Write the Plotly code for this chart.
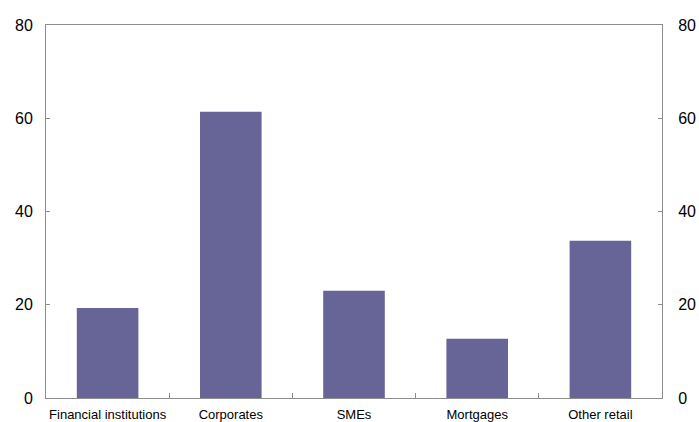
import plotly.graph_objects as go

categories = ["Financial institutions", "Corporates", "SMEs", "Mortgages", "Other retail"]
values = [19.3, 61.4, 23.0, 12.7, 33.7]
y_ticks = [0, 20, 40, 60, 80]

fig = go.Figure()
fig.add_trace(go.Bar(x=categories, y=values, marker=dict(color="#676597", line=dict(width=0)),
                     width=0.5, showlegend=False, hoverinfo="x+y"))
fig.add_trace(go.Scatter(x=categories, y=values, yaxis="y2", mode="markers",
                         marker=dict(opacity=0), showlegend=False, hoverinfo="skip"))

axcol = "#8c8c8c"
fig.update_layout(
    width=699, height=422,
    margin=dict(l=46, r=37, t=25, b=24),
    paper_bgcolor="white", plot_bgcolor="white",
    font=dict(family="Liberation Sans, Arial, sans-serif", color="black"),
    xaxis=dict(type="category", showline=True, linecolor=axcol, linewidth=1,
               ticks="inside", tickson="boundaries", ticklen=5, tickcolor=axcol,
               tickfont=dict(size=13), tickangle=0, showgrid=False, mirror=True,
               zeroline=False, automargin=False, ticklabelstandoff=4),
    yaxis=dict(range=[0, 80], tickvals=y_ticks, showline=True, linecolor=axcol, linewidth=1,
               ticks="inside", ticklen=4, tickcolor=axcol, tickfont=dict(size=16),
               showgrid=False, zeroline=False, ticklabelstandoff=9, automargin=False),
    yaxis2=dict(range=[0, 80], tickvals=y_ticks, overlaying="y", side="right",
                showline=True, linecolor=axcol, linewidth=1,
                ticks="inside", ticklen=4, tickcolor=axcol, tickfont=dict(size=16),
                showgrid=False, zeroline=False, ticklabelstandoff=12, automargin=False),
)

fig.write_html(
    "out.html",
    config={"displayModeBar": False},
    post_script="document.body.style.margin='0';document.body.style.overflow='hidden';",
)
